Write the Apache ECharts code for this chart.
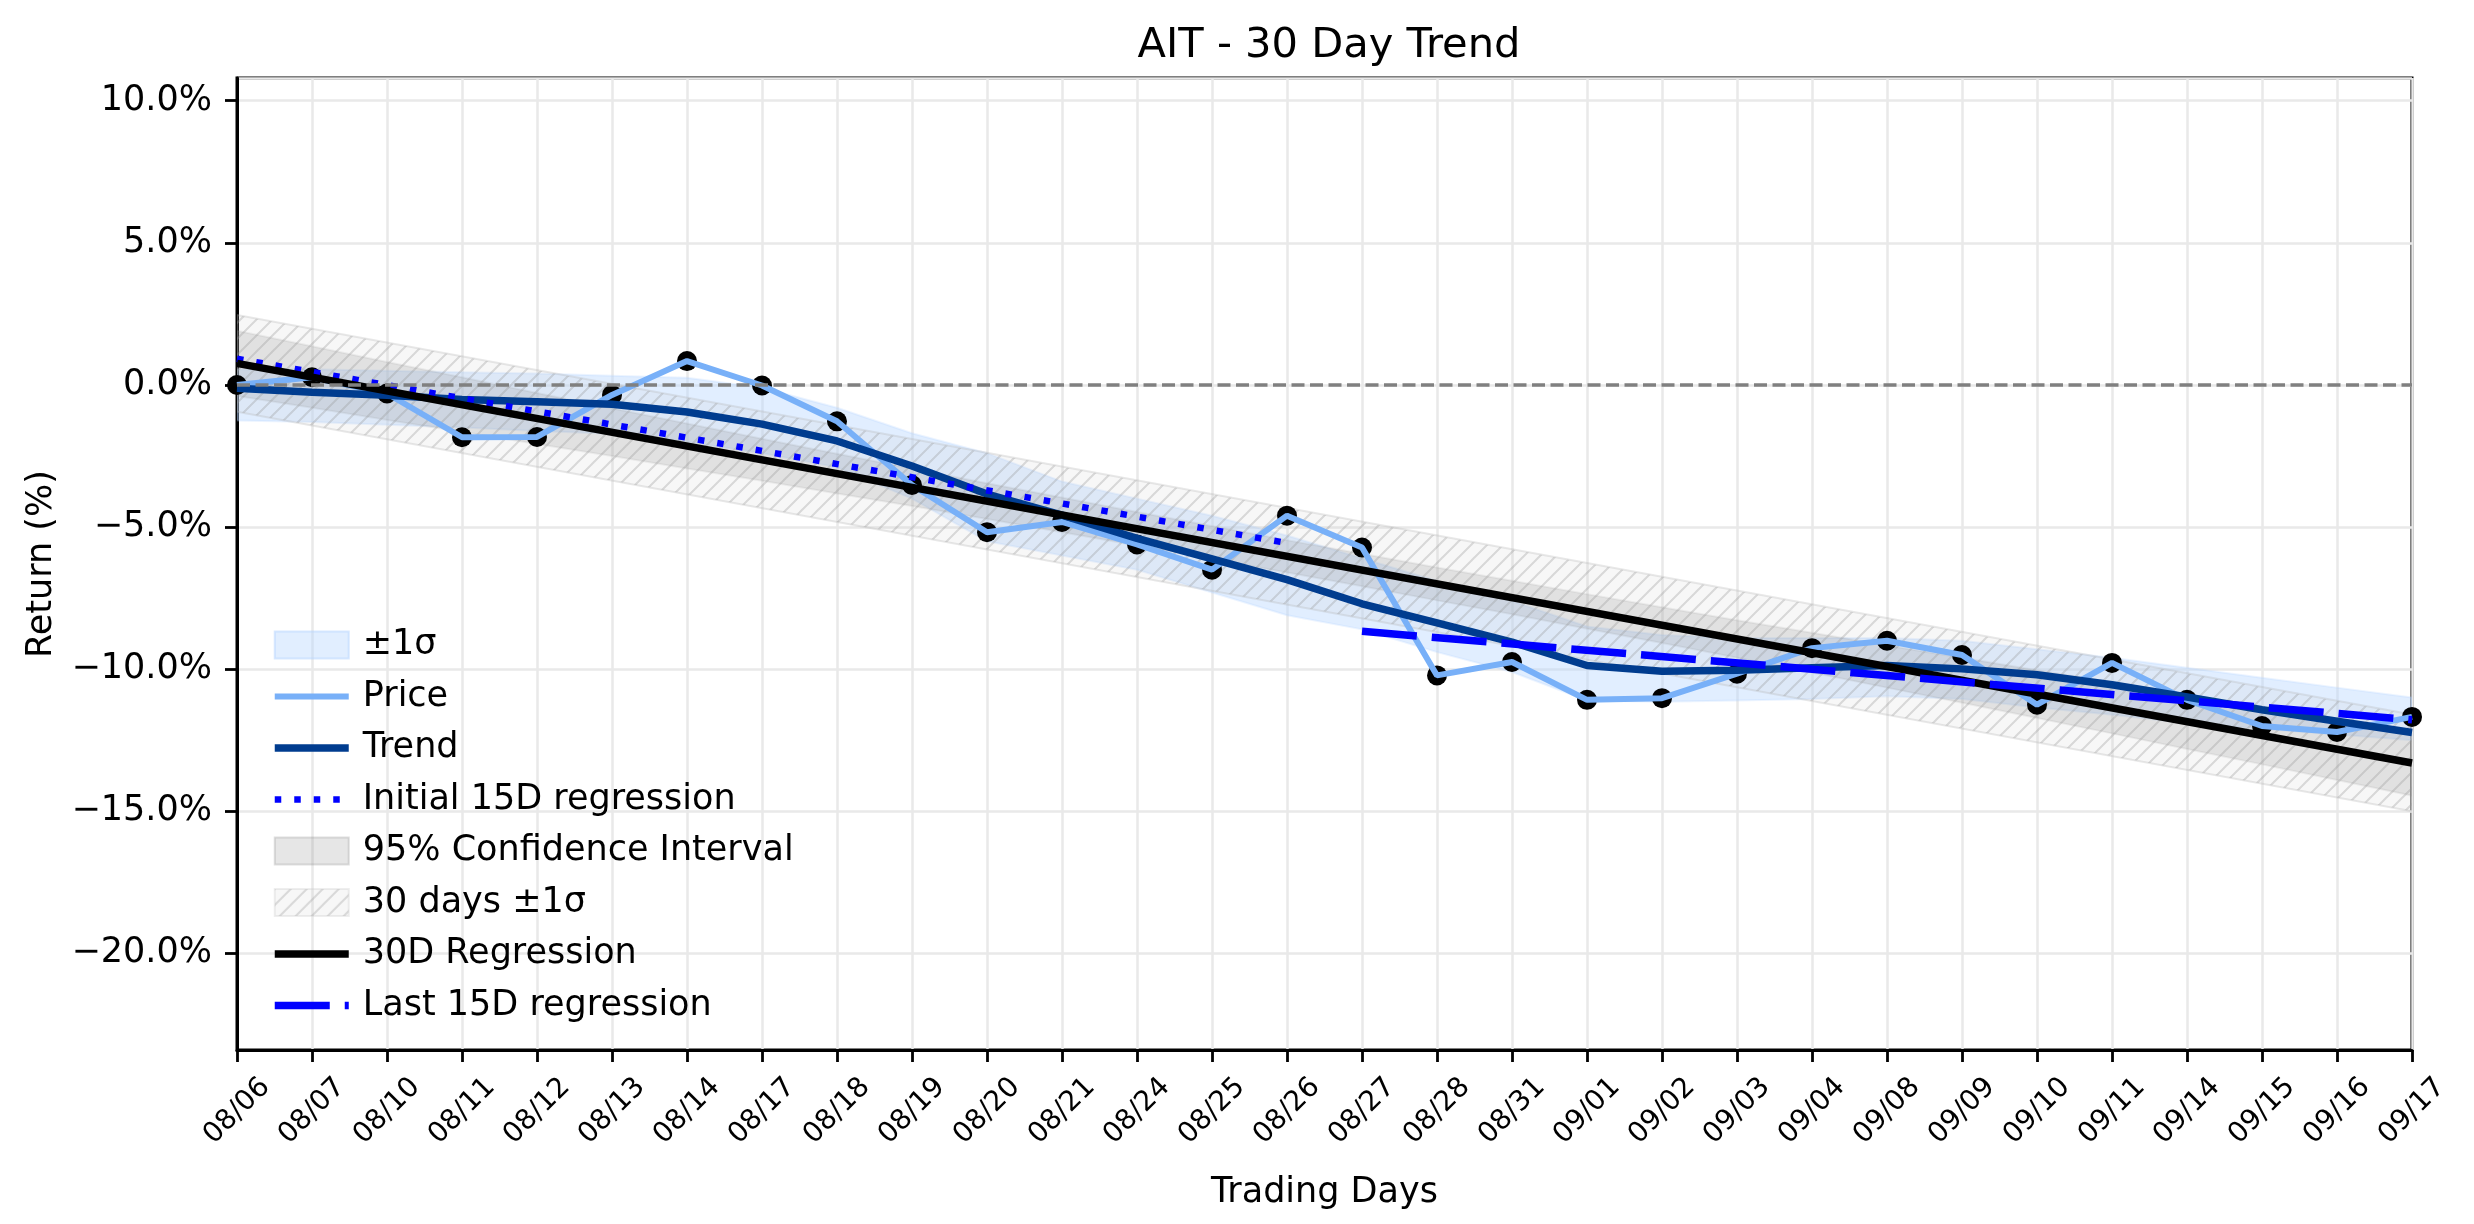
<!DOCTYPE html>
<html><head><meta charset="utf-8">
<script src="https://cdn.jsdelivr.net/npm/echarts@6/dist/echarts.min.js"></script>
<style>html,body{margin:0;padding:0;background:#fff}#c{width:2474px;height:1224px}</style>
</head><body><div id="c"></div>
<script>
const dates = ['08/06','08/07','08/10','08/11','08/12','08/13','08/14','08/17','08/18','08/19','08/20','08/21','08/24','08/25','08/26','08/27','08/28','08/31','09/01','09/02','09/03','09/04','09/08','09/09','09/10','09/11','09/14','09/15','09/16','09/17'];
const price = [0.00, 0.27, -0.30, -1.84, -1.83, -0.35, 0.84, -0.02, -1.28, -3.52, -5.18, -4.82, -5.61, -6.50, -4.60, -5.72, -10.22, -9.75, -11.08, -11.02, -10.16, -9.26, -9.00, -9.50, -11.25, -9.78, -11.08, -12.00, -12.21, -11.68];
const trend = [-0.12, -0.26, -0.36, -0.51, -0.59, -0.68, -0.95, -1.38, -1.97, -2.85, -3.84, -4.58, -5.40, -6.12, -6.85, -7.70, -8.37, -9.05, -9.87, -10.07, -10.04, -9.95, -9.87, -9.99, -10.20, -10.55, -10.98, -11.43, -11.83, -12.23];
const sigmaUpper = [0.55, 0.55, 0.50, 0.45, 0.40, 0.32, 0.25, -0.10, -0.80, -1.70, -2.40, -3.40, -4.00, -4.60, -5.30, -6.10, -6.90, -7.60, -8.50, -8.80, -8.90, -8.90, -8.90, -9.00, -9.30, -9.60, -9.95, -10.30, -10.65, -11.00];
const sigmaLower = [-1.25, -1.30, -1.40, -1.50, -1.62, -1.72, -2.00, -2.40, -2.90, -4.00, -5.50, -6.00, -6.50, -7.30, -8.10, -8.60, -9.40, -10.10, -11.10, -11.15, -11.10, -11.05, -10.95, -11.05, -11.35, -11.60, -11.90, -12.10, -12.30, -12.50];
const ciUpper = [1.91, 1.36, 0.81, 0.27, -0.28, -0.82, -1.36, -1.89, -2.42, -2.94, -3.46, -3.96, -4.47, -4.96, -5.46, -5.94, -6.42, -6.89, -7.36, -7.82, -8.28, -8.72, -9.17, -9.60, -10.04, -10.46, -10.89, -11.31, -11.74, -12.15];
const ciLower = [-0.39, -0.80, -1.23, -1.65, -2.08, -2.50, -2.94, -3.37, -3.82, -4.26, -4.72, -5.18, -5.65, -6.12, -6.60, -7.08, -7.58, -8.07, -8.58, -9.08, -9.60, -10.12, -10.65, -11.18, -11.72, -12.26, -12.81, -13.35, -13.90, -14.45];
const band30Upper = [2.46, -11.60];   // first date, last date
const band30Lower = [-0.94, -15.00];  // first date, last date
const reg30 = [0.76, -13.30];         // first date, last date
const init15 = [0.92, -5.56];         // dates[0] .. dates[14]
const last15 = [-8.67, -11.78];       // dates[15] .. dates[29]
const zeroLine = [0, 0];              // first date, last date

const FONT = 'DejaVu Sans';

function hatchCanvas() {
  const c = document.createElement('canvas');
  c.width = 16; c.height = 16;
  const g = c.getContext('2d');
  g.fillStyle = 'rgba(200,200,200,0.15)';
  g.fillRect(0, 0, 16, 16);
  g.strokeStyle = 'rgba(150,150,150,0.32)';
  g.lineWidth = 2;
  g.beginPath();
  g.moveTo(-2, 18); g.lineTo(18, -2);
  g.moveTo(-10, 10); g.lineTo(10, -10);
  g.moveTo(6, 26); g.lineTo(26, 6);
  g.stroke();
  return c;
}
const hatch = { image: hatchCanvas(), repeat: 'repeat' };

const sigmaFill = 'rgba(180,212,255,0.4)';
const ciFill = 'rgba(128,128,128,0.2)';

function bandSeries(name, xs, up, lo, fill, stroke) {
  return {
    type: 'custom', name: name, silent: true, clip: true,
    itemStyle: { color: fill },
    data: [[0, 0]],
    renderItem: function (params, api) {
      const pts = [];
      for (let i = 0; i < xs.length; i++) pts.push(api.coord([xs[i], up[i]]));
      for (let i = xs.length - 1; i >= 0; i--) pts.push(api.coord([xs[i], lo[i]]));
      return { type: 'polygon', shape: { points: pts }, style: { fill: fill, stroke: stroke, lineWidth: 2 } };
    }
  };
}
const allIdx = dates.map((d, i) => i);
const ends = [0, dates.length - 1];
const last = dates.length - 1;

const noSym = { opacity: 0 };

const chart = echarts.init(document.getElementById('c'));
chart.setOption({
  animation: false,
  backgroundColor: '#fff',
  title: {
    text: 'AIT - 30 Day Trend', left: 1324, top: 20, textAlign: 'center',
    textStyle: { fontFamily: FONT, fontSize: 41.6, fontWeight: 'normal', color: '#000' }
  },
  grid: { left: 237, right: 62, top: 78, bottom: 174, show: true, borderColor: '#000', borderWidth: 3, backgroundColor: 'transparent' },
  legend: {
    orient: 'vertical', left: 266, top: 622, itemWidth: 74, itemHeight: 27, itemGap: 15.5,
    textStyle: { fontFamily: FONT, fontSize: 35, color: '#000', padding: [0, 0, 0, 9], lineHeight: 36 },
    selectedMode: false,
    lineStyle: { width: 'inherit' },
    data: [
      { name: '±1σ', icon: 'rect', itemStyle: { color: sigmaFill, borderColor: 'rgba(180,212,255,0.5)', borderWidth: 2 } },
      { name: 'Price', itemStyle: noSym, lineStyle: { width: 6 } },
      { name: 'Trend', itemStyle: noSym, lineStyle: { width: 7.5 } },
      { name: 'Initial 15D regression', itemStyle: noSym, lineStyle: { width: 6.5 } },
      { name: '95% Confidence Interval', icon: 'rect', itemStyle: { color: ciFill, borderColor: 'rgba(128,128,128,0.25)', borderWidth: 2 } },
      { name: '30 days ±1σ', icon: 'rect', itemStyle: { color: hatch, borderColor: 'rgba(200,200,200,0.3)', borderWidth: 2 } },
      { name: '30D Regression', itemStyle: noSym, lineStyle: { width: 7.5 } },
      { name: 'Last 15D regression', itemStyle: noSym, lineStyle: { width: 7.5 } }
    ]
  },
  xAxis: {
    type: 'category', data: dates, boundaryGap: false,
    name: 'Trading Days', nameLocation: 'middle', nameGap: 113,
    nameTextStyle: { fontFamily: FONT, fontSize: 35, color: '#000' },
    axisLine: { onZero: false, lineStyle: { color: '#000', width: 3 } },
    axisTick: { interval: 0, length: 12, lineStyle: { color: '#000', width: 2.8 } },
    axisLabel: {
      interval: 0, rotate: 45, margin: 4, lineHeight: 81, fontFamily: FONT, fontSize: 28, color: '#000',
      formatter: function (v) { return '\n' + v; }
    },
    splitLine: { show: true, interval: 0, lineStyle: { color: '#e9e9e9', width: 2.5 } }
  },
  yAxis: {
    type: 'value', min: -23.4, max: 10.8, splitNumber: 7, minInterval: 5, maxInterval: 5,
    name: 'Return (%)', nameLocation: 'middle', nameGap: 178, nameRotate: 90,
    nameTextStyle: { fontFamily: FONT, fontSize: 35, color: '#000' },
    axisLine: { show: true, onZero: false, lineStyle: { color: '#000', width: 3 } },
    axisTick: { show: true, length: 12, lineStyle: { color: '#000', width: 2.8 } },
    axisLabel: {
      margin: 25, fontFamily: FONT, fontSize: 35, color: '#000', showMinLabel: false, showMaxLabel: false,
      formatter: function (v) { return (v < 0 ? '\u2212' : '') + Math.abs(v).toFixed(1) + '%'; }
    },
    splitLine: { show: true, lineStyle: { color: '#e9e9e9', width: 2.5 } }
  },
  series: [
    bandSeries('±1σ', allIdx, sigmaUpper, sigmaLower, sigmaFill, 'rgba(180,212,255,0.25)'),
    {
      type: 'line', name: 'Price', data: price, symbol: 'none',
      lineStyle: { color: '#78b0f8', width: 6 }, itemStyle: { color: '#78b0f8' }
    },
    {
      type: 'line', name: 'Trend', data: trend, symbol: 'none',
      lineStyle: { color: '#003c8f', width: 7.5 }, itemStyle: { color: '#003c8f' }
    },
    {
      type: 'line', name: 'Initial 15D regression', symbol: 'none',
      data: [[dates[0], init15[0]], [dates[14], init15[1]]],
      lineStyle: { color: '#0000ff', width: 6.5, type: [6.5, 13], cap: 'butt' }, itemStyle: { color: '#0000ff' }
    },
    bandSeries('95% Confidence Interval', allIdx, ciUpper, ciLower, ciFill, 'rgba(128,128,128,0.12)'),
    bandSeries('30 days ±1σ', ends, band30Upper, band30Lower, hatch, 'rgba(180,180,180,0.3)'),
    {
      type: 'line', name: '30D Regression', symbol: 'none',
      data: [[dates[0], reg30[0]], [dates[last], reg30[1]]],
      lineStyle: { color: '#000', width: 7.5 }, itemStyle: { color: '#000' }
    },
    {
      type: 'line', name: 'Last 15D regression', symbol: 'none',
      data: [[dates[15], last15[0]], [dates[last], last15[1]]],
      lineStyle: { color: '#0000ff', width: 7.5, type: [55, 15], cap: 'butt' }, itemStyle: { color: '#0000ff' }
    },
    {
      type: 'line', name: 'zero', symbol: 'none', silent: true,
      data: [[dates[0], zeroLine[0]], [dates[last], zeroLine[1]]],
      lineStyle: { color: '#808080', width: 3.5, type: [13, 5.5], cap: 'butt' }, itemStyle: { color: '#808080' }
    },
    {
      type: 'scatter', name: 'points', data: price, symbol: 'circle', symbolSize: 20,
      itemStyle: { color: '#000', opacity: 1 }
    }
  ]
});
</script>
</body></html>
